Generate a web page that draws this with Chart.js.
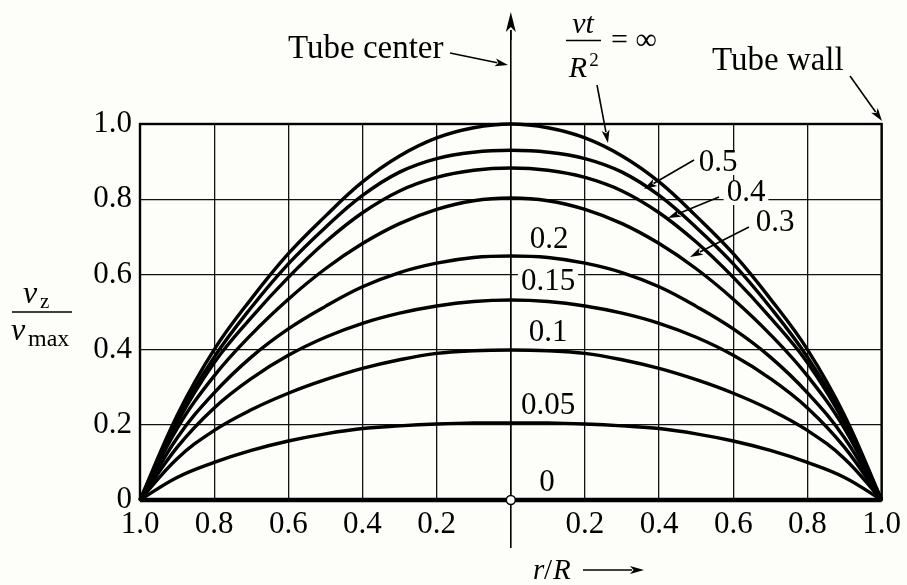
<!DOCTYPE html>
<html>
<head>
<meta charset="utf-8">
<script src="https://cdn.jsdelivr.net/npm/chart.js@4.4.1/dist/chart.umd.min.js"></script>
<style>
  html, body { margin: 0; padding: 0; background: #fdfdfa; }
  #wrap { width: 907px; height: 585px; position: relative; }
</style>
</head>
<body>
<div id="wrap"><canvas id="c"></canvas></div>
<script>
// r/R positions (from the tube center outward); each profile is symmetric about r = 0
const rValues = [0, 0.1, 0.2, 0.3, 0.4, 0.5, 0.6, 0.7, 0.8, 0.9, 1.0];

// v_z / v_max for each value of nu*t/R^2
const vInf  = [1.000, 0.990, 0.963, 0.915, 0.846, 0.755, 0.655, 0.535, 0.400, 0.225, 0];
const v050  = [0.930, 0.925, 0.908, 0.872, 0.810, 0.725, 0.628, 0.512, 0.380, 0.215, 0];
const v040  = [0.883, 0.877, 0.858, 0.822, 0.764, 0.686, 0.592, 0.485, 0.365, 0.205, 0];
const v030  = [0.803, 0.796, 0.773, 0.735, 0.682, 0.615, 0.534, 0.440, 0.330, 0.190, 0];
const v020  = [0.649, 0.645, 0.630, 0.605, 0.567, 0.515, 0.455, 0.380, 0.285, 0.165, 0];
const v015  = [0.532, 0.528, 0.516, 0.497, 0.470, 0.433, 0.385, 0.323, 0.245, 0.140, 0];
const v010  = [0.399, 0.397, 0.390, 0.373, 0.350, 0.320, 0.284, 0.240, 0.185, 0.110, 0];
const v005  = [0.205, 0.205, 0.202, 0.197, 0.190, 0.176, 0.157, 0.132, 0.100, 0.060, 0];
const v000  = [0, 0, 0, 0, 0, 0, 0, 0, 0, 0, 0];

const seriesLabels = ["∞", "0.5", "0.4", "0.3", "0.2", "0.15", "0.1", "0.05", "0"];
const seriesValues = [vInf, v050, v040, v030, v020, v015, v010, v005, v000];

// axis ticks
const xTicks = [-1.0, -0.8, -0.6, -0.4, -0.2, 0, 0.2, 0.4, 0.6, 0.8, 1.0];
const yTicks = [0, 0.2, 0.4, 0.6, 0.8, 1.0];

function mirror(vals) {
  const pts = [];
  for (let i = rValues.length - 1; i >= 0; i--) pts.push({ x: -rValues[i], y: vals[i] });
  for (let i = 1; i < rValues.length; i++) pts.push({ x: rValues[i], y: vals[i] });
  return pts;
}

const datasets = seriesValues.map((vals, k) => ({
  label: seriesLabels[k],
  data: mirror(vals),
  showLine: true,
  borderColor: '#000',
  borderWidth: k === seriesValues.length - 1 ? 4.5 : 3.4,
  pointRadius: 0,
  fill: false,
  tension: 0.4,
  clip: false
}));

const SERIF = '"Liberation Serif", "Times New Roman", serif';

function arrow(ctx, x1, y1, x2, y2, len, hw, lw) {
  ctx.save();
  ctx.strokeStyle = '#000';
  ctx.fillStyle = '#000';
  ctx.lineWidth = lw || 1.6;
  const a = Math.atan2(y2 - y1, x2 - x1);
  const bx = x2 - len * Math.cos(a), by = y2 - len * Math.sin(a);
  ctx.beginPath();
  ctx.moveTo(x1, y1);
  ctx.lineTo(bx + 2 * Math.cos(a), by + 2 * Math.sin(a));
  ctx.stroke();
  ctx.beginPath();
  ctx.moveTo(x2, y2);
  ctx.lineTo(bx + hw * Math.sin(a), by - hw * Math.cos(a));
  ctx.lineTo(bx + len * 0.25 * Math.cos(a), by + len * 0.25 * Math.sin(a));
  ctx.lineTo(bx - hw * Math.sin(a), by + hw * Math.cos(a));
  ctx.closePath();
  ctx.fill();
  ctx.restore();
}

function label(ctx, str, cx, cy, font, bg) {
  ctx.save();
  ctx.font = font;
  ctx.textAlign = 'center';
  ctx.textBaseline = 'middle';
  if (bg) {
    const w = ctx.measureText(str).width;
    ctx.fillStyle = '#fdfdfa';
    ctx.fillRect(cx - w / 2 - 3, cy - 12, w + 6, 24);
  }
  ctx.fillStyle = '#000';
  ctx.fillText(str, cx, cy);
  ctx.restore();
}

const decorations = {
  id: 'decorations',
  afterDatasetsDraw(chart) {
    const ctx = chart.ctx;
    const xs = chart.scales.x, ys = chart.scales.y;
    const ca = chart.chartArea;
    const x0 = xs.getPixelForValue(0);
    const yB = ys.getPixelForValue(0);

    // frame
    ctx.save();
    ctx.strokeStyle = '#000';
    ctx.lineWidth = 2.4;
    ctx.strokeRect(ca.left, ca.top, ca.right - ca.left, ca.bottom - ca.top);
    ctx.restore();

    // central axis with arrow
    ctx.save();
    ctx.strokeStyle = '#000';
    ctx.lineWidth = 1.6;
    ctx.beginPath();
    ctx.moveTo(x0, 548);
    ctx.lineTo(x0, 30);
    ctx.stroke();
    ctx.restore();
    arrow(ctx, x0, 40, x0, 12, 20, 5, 1.6);

    // open circle at the origin
    ctx.save();
    ctx.beginPath();
    ctx.arc(x0, yB, 4.5, 0, Math.PI * 2);
    ctx.fillStyle = '#fff';
    ctx.fill();
    ctx.lineWidth = 1.5;
    ctx.strokeStyle = '#000';
    ctx.stroke();
    ctx.restore();

    ctx.save();
    ctx.fillStyle = '#000';
    ctx.font = '33px ' + SERIF;
    ctx.textAlign = 'left';
    ctx.textBaseline = 'alphabetic';
    ctx.fillText('Tube center', 288, 58);
    ctx.fillText('Tube wall', 712, 70);
    ctx.restore();
    arrow(ctx, 450, 53, 508, 65, 13, 4);
    arrow(ctx, 850, 76, 882, 121, 13, 4);

    // nu t / R^2 = infinity
    ctx.save();
    ctx.fillStyle = '#000';
    ctx.textAlign = 'center';
    ctx.textBaseline = 'alphabetic';
    ctx.font = 'italic 30px ' + SERIF;
    ctx.fillText('νt', 583, 33);
    ctx.fillText('R', 578, 77);
    ctx.font = '19px ' + SERIF;
    ctx.fillText('2', 594, 66);
    ctx.lineWidth = 1.5;
    ctx.beginPath();
    ctx.moveTo(566, 40.5);
    ctx.lineTo(601, 40.5);
    ctx.stroke();
    ctx.font = '30px ' + SERIF;
    ctx.textAlign = 'left';
    ctx.textBaseline = 'middle';
    ctx.fillText('= ∞', 611, 41);
    ctx.restore();
    arrow(ctx, 597, 85, 608, 143, 13, 4);

    // curve labels
    const F = '31px ' + SERIF;
    label(ctx, '0.5', 718, 163, F, true);
    label(ctx, '0.4', 746, 193, F, true);
    label(ctx, '0.3', 775, 223, F, true);
    arrow(ctx, 694, 160, 644, 189, 13, 4);
    arrow(ctx, 719, 197, 668, 218, 13, 4);
    arrow(ctx, 749, 227, 690, 257, 13, 4);
    label(ctx, '0.2', 549, 240, F, true);
    label(ctx, '0.15', 548, 282, F, true);
    label(ctx, '0.1', 548, 333, F, true);
    label(ctx, '0.05', 548, 406, F, true);
    label(ctx, '0', 547, 483, F, true);

    // y-axis title v_z / v_max
    ctx.save();
    ctx.fillStyle = '#000';
    ctx.textBaseline = 'alphabetic';
    ctx.textAlign = 'left';
    ctx.font = 'italic 32px ' + SERIF;
    ctx.fillText('v', 23, 303);
    ctx.font = '21px ' + SERIF;
    ctx.fillText('z', 40, 308);
    ctx.lineWidth = 1.5;
    ctx.beginPath();
    ctx.moveTo(12, 312);
    ctx.lineTo(72, 312);
    ctx.stroke();
    ctx.font = 'italic 32px ' + SERIF;
    ctx.fillText('v', 11, 340);
    ctx.font = '24px ' + SERIF;
    ctx.fillText('max', 28, 346);
    ctx.restore();

    // x-axis title r/R -->
    ctx.save();
    ctx.fillStyle = '#000';
    ctx.textBaseline = 'alphabetic';
    ctx.textAlign = 'left';
    ctx.font = 'italic 29px ' + SERIF;
    ctx.fillText('r', 533, 579);
    ctx.font = '29px ' + SERIF;
    ctx.fillText('/', 544, 579);
    ctx.font = 'italic 29px ' + SERIF;
    ctx.fillText('R', 553, 579);
    ctx.restore();
    arrow(ctx, 583, 570, 644, 570, 14, 4, 1.4);
  }
};

new Chart(document.getElementById('c'), {
  type: 'scatter',
  data: { datasets },
  options: {
    responsive: true,
    maintainAspectRatio: false,
    animation: false,
    events: [],
    layout: { padding: { left: 0, top: 124, right: 24, bottom: 0 } },
    plugins: { legend: { display: false }, tooltip: { enabled: false } },
    scales: {
      x: {
        type: 'linear',
        min: -1, max: 1,
        afterFit(s) { s.height = 85; },
        afterBuildTicks(s) { s.ticks = xTicks.map(v => ({ value: v })); },
        grid: { color: '#111', lineWidth: 1.3, drawTicks: false },
        border: { display: false },
        ticks: {
          padding: 6,
          color: '#000',
          maxRotation: 0,
          autoSkip: false,
          font: { family: SERIF, size: 31 },
          callback: v => Math.abs(v) < 1e-9 ? '' : Math.abs(v).toFixed(1)
        }
      },
      y: {
        type: 'linear',
        min: 0, max: 1,
        afterFit(s) { s.width = 140; },
        afterBuildTicks(s) { s.ticks = yTicks.map(v => ({ value: v })); },
        grid: { color: '#111', lineWidth: 1.3, drawTicks: false },
        border: { display: false },
        ticks: {
          padding: 8,
          color: '#000',
          autoSkip: false,
          font: { family: SERIF, size: 31 },
          callback: v => Math.abs(v) < 1e-9 ? '0' : v.toFixed(1)
        }
      }
    }
  },
  plugins: [decorations]
});
</script>
</body>
</html>
